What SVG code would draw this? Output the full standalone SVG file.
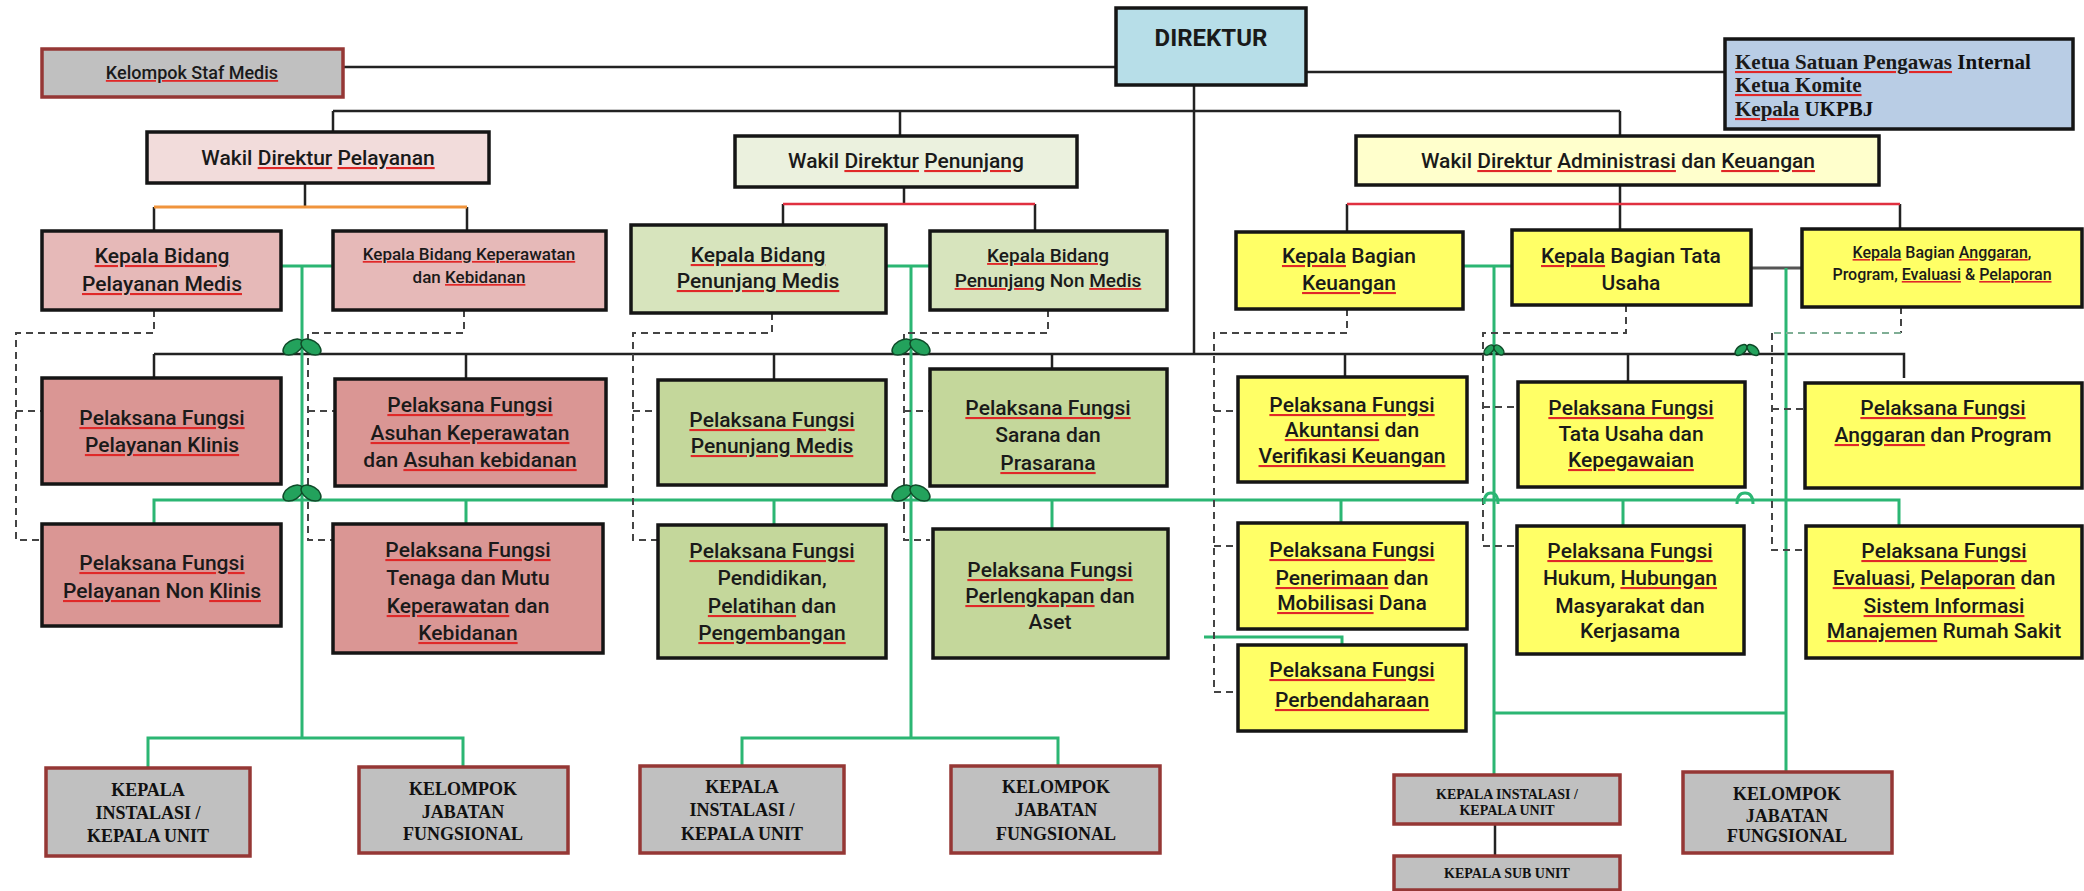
<svg xmlns="http://www.w3.org/2000/svg" width="2084" height="891" viewBox="0 0 2084 891">
<style>
.bx{stroke:#151515;stroke-width:3.5}
.gr{fill:#c0c0c0;stroke:#953735;stroke-width:3.5}
.t{font-family:Roboto,"DejaVu Sans",sans-serif;font-size:21px;font-weight:500;fill:#1a1a1a;text-anchor:middle}
.sf{font-family:"Liberation Serif","Times New Roman",serif;font-weight:bold;fill:#111;text-anchor:middle;font-size:18px}
.st{text-anchor:start}
.f14{font-size:14px}.f16{font-size:16px}.f17{font-size:17px}.f18{font-size:18px}.f19{font-size:19px}.f21{font-size:21px}.f24{font-size:24px;font-weight:bold}
.u{text-decoration:underline;fill:#e02828}
.u tspan{fill:#1a1a1a}
.k{fill:none;stroke:#222;stroke-width:2.5}
.g{fill:none;stroke:#2bb673;stroke-width:3}
.d{fill:none;stroke:#444;stroke-width:2;stroke-dasharray:7 5}
.lf{fill:#23a25c;stroke:#0e4a28;stroke-width:1.5}
</style>

<g id="connectors">
  <path class="k" d="M343,67H1116M1306,72H1725M1194,85V354M333,111H1620M333,111V132M900,111V136M1620,111V136"/>
  <path class="k" d="M305,183V207M154,207V231M467,207V231"/>
  <path fill="none" stroke="#f0943c" stroke-width="3" d="M154,207H467"/>
  <path class="k" d="M904,187V204M783,204V225M1035,204V231M1620,185V204M1347,204V232M1620,204V230M1900,204V229"/>
  <path fill="none" stroke="#e03040" stroke-width="2.5" d="M783,204H1035M1347,204H1900"/>
  <path class="k" d="M154,354H1904V378M154,354V378M466,354V379M774,354V380M1052,354V370M1345,354V377M1628,354V382"/>
  <path fill="none" stroke="#555" stroke-width="3" d="M1751,268H1802"/>
  <path class="g" d="M281,266H333M302,266V738M148,768V738H463V767"/>
  <path class="g" d="M886,266H930M911,266V738M742,766V738H1058V766"/>
  <path class="g" d="M1463,266H1512M1494,266V775M1786,268V772M1494,713H1787"/>
  <path class="g" d="M154,524V500H1899V526M466,500V524M774,500V525M1052,500V529M1341,500V523M1623,500V526M1204,637H1342V645"/>
  <path class="k" d="M1495,824V856"/>
  <path class="d" d="M154,310V333H16V540H42M16,411H42"/>
  <path class="d" d="M464,310V333H308V540H333M308,411H335"/>
  <path class="d" d="M772,313V333H633V540H658M633,411H658"/>
  <path class="d" d="M1048,310V333H904V540H930M904,411H930"/>
  <path class="d" d="M1347,309V333H1214V692H1238M1214,411H1238M1214,546H1238"/>
  <path class="d" d="M1626,305V333H1483V546H1518M1483,407H1518"/>
  <path class="d" d="M1901,307V333M1772,333V550H1806M1772,409H1806"/>
  <path class="d" style="stroke:#7fae95" d="M1901,333H1772"/>
  <g id="jumps">
    <ellipse class="lf" cx="293" cy="347" rx="11" ry="6.5" transform="rotate(-32 293 347)"/>
    <ellipse class="lf" cx="311" cy="347" rx="11" ry="6.5" transform="rotate(32 311 347)"/>
    <ellipse class="lf" cx="293" cy="493" rx="11" ry="6.5" transform="rotate(-32 293 493)"/>
    <ellipse class="lf" cx="311" cy="493" rx="11" ry="6.5" transform="rotate(32 311 493)"/>
    <ellipse class="lf" cx="902" cy="347" rx="11" ry="6.5" transform="rotate(-32 902 347)"/>
    <ellipse class="lf" cx="920" cy="347" rx="11" ry="6.5" transform="rotate(32 920 347)"/>
    <ellipse class="lf" cx="902" cy="493" rx="11" ry="6.5" transform="rotate(-32 902 493)"/>
    <ellipse class="lf" cx="920" cy="493" rx="11" ry="6.5" transform="rotate(32 920 493)"/>
    <ellipse class="lf" cx="1489" cy="350" rx="6" ry="3.5" transform="rotate(-45 1489 350)"/>
    <ellipse class="lf" cx="1499" cy="350" rx="6" ry="3.5" transform="rotate(45 1499 350)"/>
    <ellipse class="lf" cx="1741" cy="350" rx="7" ry="4" transform="rotate(-40 1741 350)"/>
    <ellipse class="lf" cx="1753" cy="350" rx="7" ry="4" transform="rotate(40 1753 350)"/>
    <path class="g" stroke-width="3.5" d="M1484,504Q1484,493 1491,493Q1498,493 1498,504M1737,504Q1737,493 1745,493Q1753,493 1753,504"/>
  </g>
</g>

<g id="n-staf"><rect class="gr" x="42" y="49" width="301" height="48"/>
<text class="t f18" x="192" y="79"><tspan class="u"><tspan>Kelompok Staf Medis</tspan></tspan></text></g>

<g id="n-direktur"><rect class="bx" fill="#b7dee8" x="1116" y="8" width="190" height="77"/>
<text class="t f24" x="1211" y="46">DIREKTUR</text></g>

<g id="n-ketua"><rect class="bx" fill="#b9cde5" x="1725" y="39" width="348" height="90"/>
<text class="sf st" x="1735" y="69" style="font-size:21px"><tspan class="u"><tspan>Ketua Satuan Pengawas</tspan></tspan> Internal</text>
<text class="sf st" x="1735" y="92" style="font-size:21px"><tspan class="u"><tspan>Ketua Komite</tspan></tspan></text>
<text class="sf st" x="1735" y="116" style="font-size:21px"><tspan class="u"><tspan>Kepala</tspan></tspan> UKPBJ</text></g>

<g id="n-wd-pel"><rect class="bx" fill="#f2dcdb" x="147" y="132" width="342" height="51"/>
<text class="t" x="318" y="165">Wakil <tspan class="u"><tspan>Direktur</tspan></tspan> <tspan class="u"><tspan>Pelayanan</tspan></tspan></text></g>

<g id="n-wd-pen"><rect class="bx" fill="#ebf1de" x="735" y="136" width="342" height="51"/>
<text class="t" x="906" y="168">Wakil <tspan class="u"><tspan>Direktur</tspan></tspan> <tspan class="u"><tspan>Penunjang</tspan></tspan></text></g>

<g id="n-wd-adm"><rect class="bx" fill="#ffffcc" x="1356" y="136" width="523" height="49"/>
<text class="t" x="1618" y="168">Wakil <tspan class="u"><tspan>Direktur</tspan></tspan> <tspan class="u"><tspan>Administrasi</tspan></tspan> dan <tspan class="u"><tspan>Keuangan</tspan></tspan></text></g>

<g id="n-kb-pm"><rect class="bx" fill="#e6b9b8" x="42" y="231" width="239" height="79"/>
<text class="t" x="162" y="263"><tspan class="u"><tspan>Kepala Bidang</tspan></tspan></text>
<text class="t" x="162" y="291"><tspan class="u"><tspan>Pelayanan Medis</tspan></tspan></text></g>

<g id="n-kb-kep"><rect class="bx" fill="#e6b9b8" x="333" y="231" width="273" height="79"/>
<text class="t f17" x="469" y="260"><tspan class="u"><tspan>Kepala Bidang Keperawatan</tspan></tspan></text>
<text class="t f17" x="469" y="283">dan <tspan class="u"><tspan>Kebidanan</tspan></tspan></text></g>

<g id="n-kb-penm"><rect class="bx" fill="#d7e4bd" x="631" y="225" width="255" height="88"/>
<text class="t" x="758" y="262"><tspan class="u"><tspan>Kepala Bidang</tspan></tspan></text>
<text class="t" x="758" y="288"><tspan class="u"><tspan>Penunjang Medis</tspan></tspan></text></g>

<g id="n-kb-pennm"><rect class="bx" fill="#d7e4bd" x="930" y="231" width="237" height="79"/>
<text class="t f19" x="1048" y="262"><tspan class="u"><tspan>Kepala Bidang</tspan></tspan></text>
<text class="t f19" x="1048" y="287"><tspan class="u"><tspan>Penunjang</tspan></tspan> Non <tspan class="u"><tspan>Medis</tspan></tspan></text></g>

<g id="n-kbg-keu"><rect class="bx" fill="#ffff66" x="1236" y="232" width="227" height="77"/>
<text class="t" x="1349" y="263"><tspan class="u"><tspan>Kepala</tspan></tspan> Bagian</text>
<text class="t" x="1349" y="290"><tspan class="u"><tspan>Keuangan</tspan></tspan></text></g>

<g id="n-kbg-tu"><rect class="bx" fill="#ffff66" x="1512" y="230" width="239" height="75"/>
<text class="t" x="1631" y="263"><tspan class="u"><tspan>Kepala</tspan></tspan> Bagian Tata</text>
<text class="t" x="1631" y="290">Usaha</text></g>

<g id="n-kbg-ang"><rect class="bx" fill="#ffff66" x="1802" y="229" width="280" height="78"/>
<text class="t f16" x="1942" y="258"><tspan class="u"><tspan>Kepala</tspan></tspan> Bagian <tspan class="u"><tspan>Anggaran</tspan></tspan>,</text>
<text class="t f16" x="1942" y="280">Program, <tspan class="u"><tspan>Evaluasi</tspan></tspan> &amp; <tspan class="u"><tspan>Pelaporan</tspan></tspan></text></g>

<g id="n-pf-klinis"><rect class="bx" fill="#da9694" x="42" y="378" width="239" height="106"/>
<text class="t" x="162" y="425"><tspan class="u"><tspan>Pelaksana Fungsi</tspan></tspan></text>
<text class="t" x="162" y="452"><tspan class="u"><tspan>Pelayanan Klinis</tspan></tspan></text></g>

<g id="n-pf-asuhan"><rect class="bx" fill="#da9694" x="335" y="379" width="271" height="107"/>
<text class="t" x="470" y="412"><tspan class="u"><tspan>Pelaksana Fungsi</tspan></tspan></text>
<text class="t" x="470" y="440"><tspan class="u"><tspan>Asuhan Keperawatan</tspan></tspan></text>
<text class="t" x="470" y="467">dan <tspan class="u"><tspan>Asuhan kebidanan</tspan></tspan></text></g>

<g id="n-pf-nonklinis"><rect class="bx" fill="#da9694" x="42" y="524" width="239" height="102"/>
<text class="t" x="162" y="570"><tspan class="u"><tspan>Pelaksana Fungsi</tspan></tspan></text>
<text class="t" x="162" y="598"><tspan class="u"><tspan>Pelayanan</tspan></tspan> Non <tspan class="u"><tspan>Klinis</tspan></tspan></text></g>

<g id="n-pf-tenaga"><rect class="bx" fill="#da9694" x="333" y="524" width="270" height="129"/>
<text class="t" x="468" y="557"><tspan class="u"><tspan>Pelaksana Fungsi</tspan></tspan></text>
<text class="t" x="468" y="585">Tenaga dan Mutu</text>
<text class="t" x="468" y="613"><tspan class="u"><tspan>Keperawatan</tspan></tspan> dan</text>
<text class="t" x="468" y="640"><tspan class="u"><tspan>Kebidanan</tspan></tspan></text></g>

<g id="n-pf-penm"><rect class="bx" fill="#c4d79b" x="658" y="380" width="228" height="105"/>
<text class="t" x="772" y="427"><tspan class="u"><tspan>Pelaksana Fungsi</tspan></tspan></text>
<text class="t" x="772" y="453"><tspan class="u"><tspan>Penunjang Medis</tspan></tspan></text></g>

<g id="n-pf-sarana"><rect class="bx" fill="#c4d79b" x="930" y="369" width="237" height="117"/>
<text class="t" x="1048" y="415"><tspan class="u"><tspan>Pelaksana Fungsi</tspan></tspan></text>
<text class="t" x="1048" y="442">Sarana dan</text>
<text class="t" x="1048" y="470"><tspan class="u"><tspan>Prasarana</tspan></tspan></text></g>

<g id="n-pf-diklat"><rect class="bx" fill="#c4d79b" x="658" y="525" width="228" height="133"/>
<text class="t" x="772" y="558"><tspan class="u"><tspan>Pelaksana Fungsi</tspan></tspan></text>
<text class="t" x="772" y="585">Pendidikan,</text>
<text class="t" x="772" y="613"><tspan class="u"><tspan>Pelatihan</tspan></tspan> dan</text>
<text class="t" x="772" y="640"><tspan class="u"><tspan>Pengembangan</tspan></tspan></text></g>

<g id="n-pf-aset"><rect class="bx" fill="#c4d79b" x="933" y="529" width="235" height="129"/>
<text class="t" x="1050" y="577"><tspan class="u"><tspan>Pelaksana Fungsi</tspan></tspan></text>
<text class="t" x="1050" y="603"><tspan class="u"><tspan>Perlengkapan</tspan></tspan> dan</text>
<text class="t" x="1050" y="629">Aset</text></g>

<g id="n-pf-akun"><rect class="bx" fill="#ffff66" x="1238" y="377" width="229" height="105"/>
<text class="t" x="1352" y="412"><tspan class="u"><tspan>Pelaksana Fungsi</tspan></tspan></text>
<text class="t" x="1352" y="437"><tspan class="u"><tspan>Akuntansi</tspan></tspan> dan</text>
<text class="t" x="1352" y="463"><tspan class="u"><tspan>Verifikasi Keuangan</tspan></tspan></text></g>

<g id="n-pf-tu"><rect class="bx" fill="#ffff66" x="1518" y="382" width="227" height="105"/>
<text class="t" x="1631" y="415"><tspan class="u"><tspan>Pelaksana Fungsi</tspan></tspan></text>
<text class="t" x="1631" y="441">Tata Usaha dan</text>
<text class="t" x="1631" y="467"><tspan class="u"><tspan>Kepegawaian</tspan></tspan></text></g>

<g id="n-pf-ang"><rect class="bx" fill="#ffff66" x="1805" y="383" width="277" height="105"/>
<text class="t" x="1943" y="415"><tspan class="u"><tspan>Pelaksana Fungsi</tspan></tspan></text>
<text class="t" x="1943" y="442"><tspan class="u"><tspan>Anggaran</tspan></tspan> dan Program</text></g>

<g id="n-pf-terima"><rect class="bx" fill="#ffff66" x="1238" y="523" width="229" height="106"/>
<text class="t" x="1352" y="557"><tspan class="u"><tspan>Pelaksana Fungsi</tspan></tspan></text>
<text class="t" x="1352" y="585"><tspan class="u"><tspan>Penerimaan</tspan></tspan> dan</text>
<text class="t" x="1352" y="610"><tspan class="u"><tspan>Mobilisasi</tspan></tspan> Dana</text></g>

<g id="n-pf-hukum"><rect class="bx" fill="#ffff66" x="1517" y="526" width="227" height="128"/>
<text class="t" x="1630" y="558"><tspan class="u"><tspan>Pelaksana Fungsi</tspan></tspan></text>
<text class="t" x="1630" y="585">Hukum, <tspan class="u"><tspan>Hubungan</tspan></tspan></text>
<text class="t" x="1630" y="613">Masyarakat dan</text>
<text class="t" x="1630" y="638">Kerjasama</text></g>

<g id="n-pf-eval"><rect class="bx" fill="#ffff66" x="1806" y="526" width="276" height="132"/>
<text class="t" x="1944" y="558"><tspan class="u"><tspan>Pelaksana Fungsi</tspan></tspan></text>
<text class="t" x="1944" y="585"><tspan class="u"><tspan>Evaluasi</tspan></tspan>, <tspan class="u"><tspan>Pelaporan</tspan></tspan> dan</text>
<text class="t" x="1944" y="613"><tspan class="u"><tspan>Sistem Informasi</tspan></tspan></text>
<text class="t" x="1944" y="638"><tspan class="u"><tspan>Manajemen</tspan></tspan> Rumah Sakit</text></g>

<g id="n-pf-bendahara"><rect class="bx" fill="#ffff66" x="1238" y="645" width="228" height="86"/>
<text class="t" x="1352" y="677"><tspan class="u"><tspan>Pelaksana Fungsi</tspan></tspan></text>
<text class="t" x="1352" y="707"><tspan class="u"><tspan>Perbendaharaan</tspan></tspan></text></g>

<g id="n-ki-1"><rect class="gr" x="46" y="768" width="204" height="88"/>
<text class="sf" x="148" y="796">KEPALA</text>
<text class="sf" x="148" y="819">INSTALASI /</text>
<text class="sf" x="148" y="842">KEPALA UNIT</text></g>

<g id="n-kjf-1"><rect class="gr" x="359" y="767" width="209" height="86"/>
<text class="sf" x="463" y="795">KELOMPOK</text>
<text class="sf" x="463" y="818">JABATAN</text>
<text class="sf" x="463" y="840">FUNGSIONAL</text></g>

<g id="n-ki-2"><rect class="gr" x="640" y="766" width="204" height="87"/>
<text class="sf" x="742" y="793">KEPALA</text>
<text class="sf" x="742" y="816">INSTALASI /</text>
<text class="sf" x="742" y="840">KEPALA UNIT</text></g>

<g id="n-kjf-2"><rect class="gr" x="951" y="766" width="209" height="87"/>
<text class="sf" x="1056" y="793">KELOMPOK</text>
<text class="sf" x="1056" y="816">JABATAN</text>
<text class="sf" x="1056" y="840">FUNGSIONAL</text></g>

<g id="n-ki-3"><rect class="gr" x="1394" y="775" width="226" height="49"/>
<text class="sf f14" x="1507" y="799">KEPALA INSTALASI /</text>
<text class="sf f14" x="1507" y="815">KEPALA UNIT</text></g>

<g id="n-ksu"><rect class="gr" x="1394" y="856" width="226" height="34"/>
<text class="sf f14" x="1507" y="878">KEPALA SUB UNIT</text></g>

<g id="n-kjf-3"><rect class="gr" x="1683" y="772" width="209" height="81"/>
<text class="sf" x="1787" y="800">KELOMPOK</text>
<text class="sf" x="1787" y="822">JABATAN</text>
<text class="sf" x="1787" y="842">FUNGSIONAL</text></g>
</svg>
